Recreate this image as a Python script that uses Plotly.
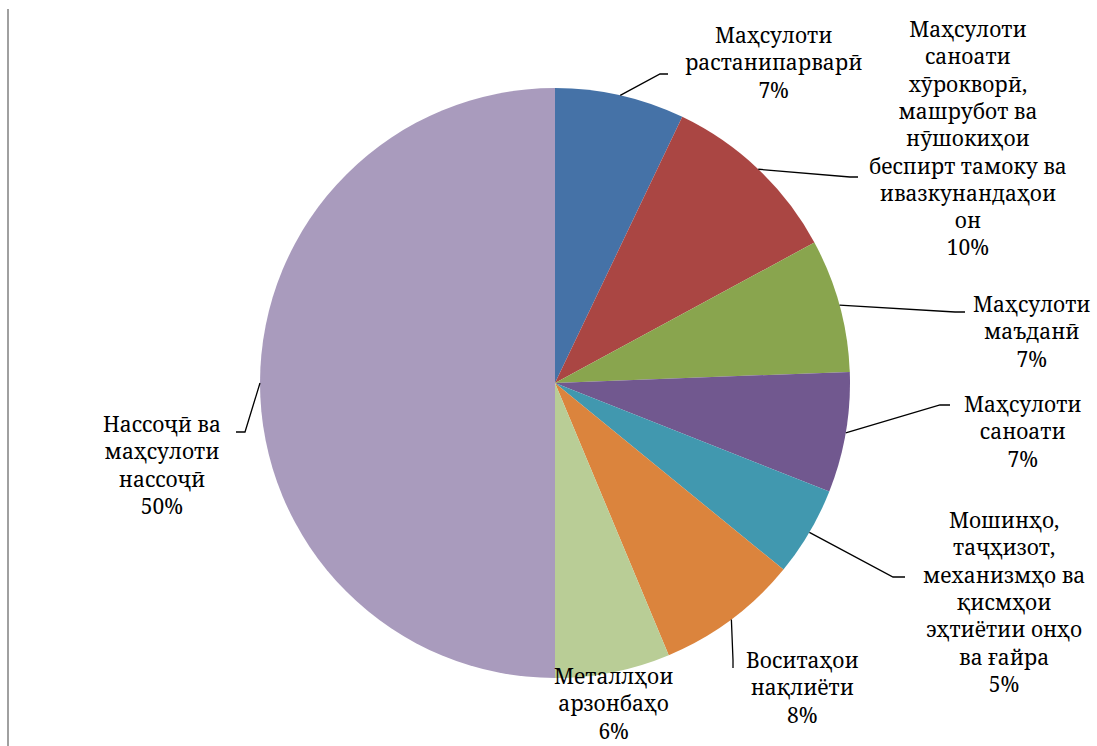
import math
import plotly.graph_objects as go

W, H = 1097, 746

# --- data ---
categories = [
    "Маҳсулоти<br>растанипарварӣ",
    "Маҳсулоти<br>саноати<br>хӯрокворӣ,<br>машрубот ва<br>нӯшокиҳои<br>беспирт тамоку ва<br>ивазкунандаҳои<br>он",
    "Маҳсулоти<br>маъданӣ",
    "Маҳсулоти<br>саноати",
    "Мошинҳо,<br>таҷҳизот,<br>механизмҳо ва<br>қисмҳои<br>эҳтиётии онҳо<br>ва ғайра",
    "Воситаҳои<br>нақлиёти",
    "Металлҳои<br>арзонбаҳо",
    "Нассоҷӣ ва<br>маҳсулоти<br>нассоҷӣ",
]
shares = [7.1, 10.0, 7.3, 6.6, 4.9, 7.8, 6.3, 50.0]
colors = ["#4572A7", "#AA4643", "#89A54E", "#71588F",
          "#4198AF", "#DB843D", "#B9CD96", "#A99BBD"]

# pie geometry in pixels (center, radius)
cx, cy, r = 555, 383, 295

# label placement (pixel centre of text) and leader elbow / end points
label_pos = [(773, 62), (968, 138), (1032, 331), (1023, 431),
             (1004, 602), (802, 687), (613, 703), (162, 465)]
leaders = [[(660, 74), (668, 74)],
           [(850, 177), (858, 177)],
           [(955, 312), (965, 312)],
           [(940, 405), (950, 405)],
           [(893, 577), (905, 577)],
           [(733, 660), (733, 668)],
           None,
           [(245, 432), (236, 432)]]

FONT = "Noto Serif, DejaVu Serif, serif"


def px(x):
    return x / W


def py(y):
    return 1 - y / H


fig = go.Figure(go.Pie(
    labels=categories,
    values=shares,
    sort=False,
    direction="clockwise",
    rotation=0,
    marker=dict(colors=colors, line=dict(width=0)),
    textinfo="none",
    hoverinfo="label+percent",
    showlegend=False,
    domain=dict(x=[px(cx - r), px(cx + r)], y=[py(cy + r), py(cy - r)]),
))

total = sum(shares)
annotations = []
shapes = []
cum = 0.0
for i, (lab, v) in enumerate(zip(categories, shares)):
    mid = (cum + v / 2) / total * 2 * math.pi
    cum += v
    ex, ey = cx + r * math.sin(mid), cy - r * math.cos(mid)
    pct = round(v / total * 100)
    lx, ly = label_pos[i]
    annotations.append(dict(
        x=px(lx), y=py(ly), xref="paper", yref="paper",
        text=f"{lab}<br>{pct}%", showarrow=False,
        xanchor="center", yanchor="middle", align="center",
        font=dict(family=FONT, size=21, color="black"),
    ))
    if leaders[i]:
        pts = [(ex, ey)] + leaders[i]
        path = "M " + " L ".join(f"{px(a)},{py(b)}" for a, b in pts)
        shapes.append(dict(type="path", path=path, xref="paper", yref="paper",
                           line=dict(color="black", width=1.3)))

# left frame edge
shapes.append(dict(type="line", xref="paper", yref="paper",
                   x0=px(8), x1=px(8), y0=py(9), y1=0,
                   line=dict(color="#a0a0a0", width=2)))

fig.update_layout(
    width=W, height=H,
    margin=dict(l=0, r=0, t=0, b=0),
    paper_bgcolor="white",
    plot_bgcolor="white",
    annotations=annotations,
    shapes=shapes,
)

# drop the default page margin so the figure sits at the window corner
fig.write_html("out.html", config={"displayModeBar": False},
               post_script="document.body.style.margin='0';")
